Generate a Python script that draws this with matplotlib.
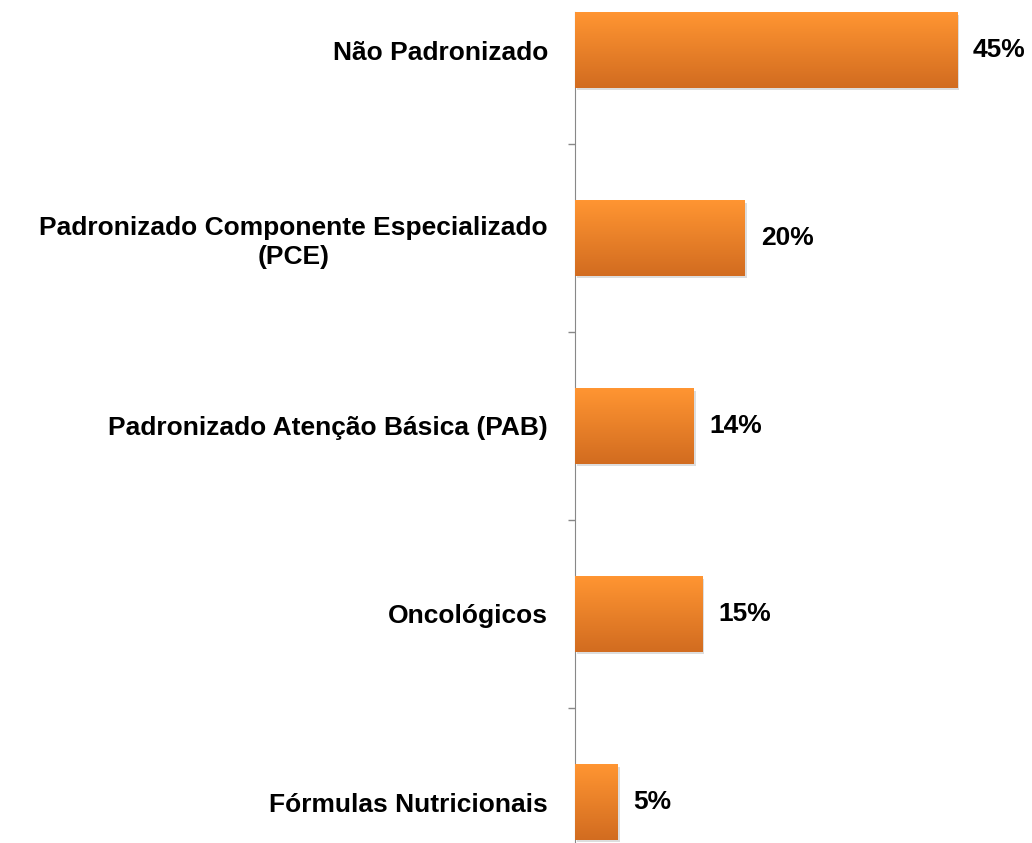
import matplotlib.pyplot as plt
import numpy as np
from matplotlib.colors import LinearSegmentedColormap

# dados
categorias = ["Não Padronizado",
              "Padronizado Componente Especializado\n(PCE)",
              "Padronizado Atenção Básica (PAB)",
              "Oncológicos",
              "Fórmulas Nutricionais"]
valores = [45, 20, 14, 15, 5]
rotulos = ["45%", "20%", "14%", "15%", "5%"]

plt.rcParams['font.family'] = ['Liberation Sans', 'DejaVu Sans']

W, H = 1032, 843
fig = plt.figure(figsize=(W / 100, H / 100), dpi=100)
# eixo maior que a figura (imagem original recortada)
ax = fig.add_axes([575 / W, (H - 896) / H, (W - 575) / W, 940 / H])

y = np.arange(len(categorias))
barras = ax.barh(y, valores, height=0.4, color='#F08A2A', zorder=2)

# degrade laranja em cada barra
cmap = LinearSegmentedColormap.from_list("laranja", ["#FF9532", "#D26C20"])
grad = np.linspace(0, 1, 64).reshape(-1, 1)
for b in barras:
    x0, y0 = b.get_x(), b.get_y()
    w, h = b.get_width(), b.get_height()
    # sombra leve
    ax.barh(y0 + h / 2 + 0.012, w, height=h, left=0.25, color='#00000022', zorder=1)
    im = ax.imshow(grad, cmap=cmap, aspect='auto', extent=[x0, x0 + w, y0 + h, y0],
                   zorder=3, interpolation='bilinear')
    im.set_clip_path(b)

for yi, v, r in zip(y, valores, rotulos):
    ax.annotate(r, (v, yi), xytext=(11.5, 0), textcoords='offset points',
                ha='left', va='center', fontsize=19, fontweight='bold')

ax.set_xlim(0, (W - 575) / 8.49)
ax.set_ylim(len(categorias) - 0.5, -0.5)

ax.set_yticks(y)
ax.set_yticklabels(categorias, fontsize=19, fontweight='bold', multialignment='center',
                   linespacing=1.25)
ax.tick_params(axis='y', which='major', length=0, pad=19.5)
ax.set_yticks(np.arange(0.5, len(categorias) - 0.5, 1), minor=True)
ax.tick_params(axis='y', which='minor', length=5, color='#888888', width=1)
ax.set_xticks([])

for s in ['top', 'right', 'bottom']:
    ax.spines[s].set_visible(False)
ax.spines['left'].set_color('#888888')
ax.spines['left'].set_bounds(len(categorias) - 0.5, -0.2)

fig.savefig("out.png", dpi=100)
